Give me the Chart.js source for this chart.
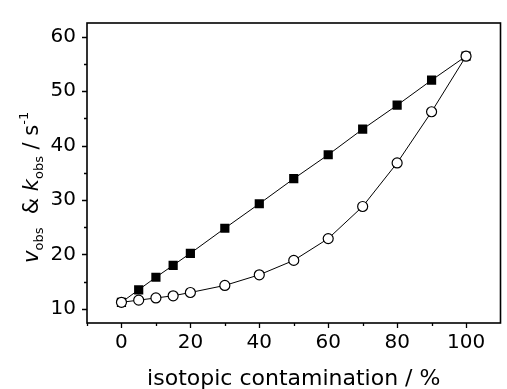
<!DOCTYPE html>
<html><head><meta charset="utf-8">
<script src="https://cdn.jsdelivr.net/npm/chart.js@4.4.1/dist/chart.umd.min.js"></script>
<style>html,body{margin:0;padding:0;background:#fff;}canvas{display:block;}</style>
</head><body>
<canvas id="c" width="507" height="389"></canvas>
<script>
const contamination = [0, 5, 10, 15, 20, 30, 40, 50, 60, 70, 80, 90, 100];
const filledSquares = [11.2, 13.5, 15.8, 18.0, 20.2, 24.8, 29.3, 33.9, 38.3, 43.0, 47.4, 52.0, 56.4];
const openCircles = [11.2, 11.6, 12.0, 12.4, 13.0, 14.3, 16.25, 18.9, 22.9, 28.8, 36.8, 46.2, 56.4];
const xMajorTicks = [0, 20, 40, 60, 80, 100];
const xMinorTicks = [-10, 10, 30, 50, 70, 90];
const yMajorTicks = [10, 20, 30, 40, 50, 60];
const yMinorTicks = [15, 25, 35, 45, 55];
const xTitle = 'isotopic contamination / %';
const yTitleParts = [
  {t: 'v', s: 'it'}, {t: 'obs', s: 'sub'}, {t: '  & ', s: 'n'},
  {t: 'k', s: 'it'}, {t: 'obs', s: 'sub'}, {t: ' / s', s: 'n'}, {t: '-1', s: 'sup'}
];

const FONT = '"DejaVu Sans", "Liberation Sans", Arial, sans-serif';

const framePlugin = {
  id: 'frame',
  afterDraw(chart) {
    const {ctx, chartArea: a, scales: {x, y}} = chart;
    ctx.save();
    ctx.strokeStyle = '#000';
    ctx.lineWidth = 1.6;
    ctx.strokeRect(a.left, a.top, a.right - a.left, a.bottom - a.top);
    ctx.lineWidth = 1.3;
    ctx.beginPath();
    xMajorTicks.forEach(v => { const p = Math.round(x.getPixelForValue(v)) + 0.5; ctx.moveTo(p, a.bottom); ctx.lineTo(p, a.bottom + 5); });
    xMinorTicks.forEach(v => { const p = Math.round(x.getPixelForValue(v)) + 0.5; ctx.moveTo(p, a.bottom); ctx.lineTo(p, a.bottom + 3); });
    yMajorTicks.forEach(v => { const p = Math.round(y.getPixelForValue(v)) + 0.5; ctx.moveTo(a.left, p); ctx.lineTo(a.left - 5, p); });
    yMinorTicks.forEach(v => { const p = Math.round(y.getPixelForValue(v)) + 0.5; ctx.moveTo(a.left, p); ctx.lineTo(a.left - 3, p); });
    ctx.stroke();

    // x title
    ctx.fillStyle = '#000';
    ctx.font = '22px ' + FONT;
    ctx.textAlign = 'center';
    ctx.textBaseline = 'alphabetic';
    ctx.fillText(xTitle, (a.left + a.right) / 2, 385);

    // y title (rotated, rich text)
    ctx.translate(38, 263);
    ctx.rotate(-Math.PI / 2);
    ctx.textAlign = 'left';
    let cx = 0;
    yTitleParts.forEach(p => {
      let dy = 0;
      if (p.s === 'it') ctx.font = 'italic 21px ' + FONT;
      else if (p.s === 'n') ctx.font = '21px ' + FONT;
      else { ctx.font = '13px ' + FONT; dy = p.s === 'sub' ? 5 : -10; }
      ctx.fillText(p.t, cx, dy);
      cx += ctx.measureText(p.t).width;
    });
    ctx.restore();
  }
};

new Chart(document.getElementById('c'), {
  type: 'line',
  data: {
    datasets: [
      {
        label: 'open circles',
        data: contamination.map((c, i) => ({x: c, y: openCircles[i]})),
        borderColor: '#000', borderWidth: 1, backgroundColor: '#fff',
        pointStyle: 'circle', pointRadius: 5, pointBorderWidth: 1.2,
        pointBackgroundColor: '#fff', pointBorderColor: '#000', tension: 0
      },
      {
        label: 'filled squares',
        data: contamination.map((c, i) => ({x: c, y: filledSquares[i]})),
        borderColor: '#000', borderWidth: 1, backgroundColor: '#000',
        pointStyle: 'rect', pointRadius: 6.5, pointBorderWidth: 0,
        pointBackgroundColor: '#000', pointBorderColor: '#000', tension: 0
      }
    ]
  },
  options: {
    responsive: false,
    animation: false,
    devicePixelRatio: 1,
    layout: {padding: {top: 14, right: 1, left: 0, bottom: 0}},
    plugins: {legend: {display: false}, tooltip: {enabled: false}},
    scales: {
      x: {
        type: 'linear', min: -10, max: 110,
        grid: {display: false, drawTicks: false},
        border: {display: false},
        afterBuildTicks: s => { s.ticks = xMajorTicks.map(v => ({value: v})); },
        afterFit: s => { s.height = 66; },
        ticks: {color: '#000', font: {family: FONT, size: 20}, padding: 8, maxRotation: 0}
      },
      y: {
        type: 'linear', min: 7.4, max: 62.5,
        grid: {display: false, drawTicks: false},
        border: {display: false},
        afterBuildTicks: s => { s.ticks = yMajorTicks.map(v => ({value: v})); },
        afterFit: s => { s.width = 87; },
        ticks: {color: '#000', font: {family: FONT, size: 20}, padding: 11}
      }
    }
  },
  plugins: [framePlugin]
});
</script>
</body></html>
